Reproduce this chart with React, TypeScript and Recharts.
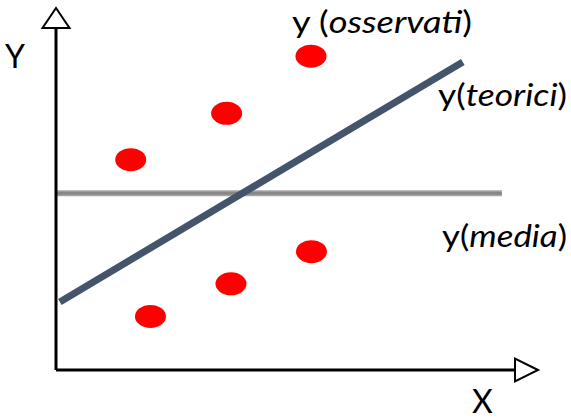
import React from 'react';
import { ScatterChart, Scatter, XAxis, YAxis, Customized } from 'recharts';

// observed points
const osservati = [
  { x: 1.55, y: 5.81 },
  { x: 3.54, y: 7.09 },
  { x: 5.29, y: 8.67 },
  { x: 1.96, y: 1.48 },
  { x: 3.63, y: 2.38 },
  { x: 5.3, y: 3.27 },
];
// regression line endpoints
const teorici = [
  { x: 0.08, y: 1.88 },
  { x: 8.44, y: 8.51 },
];
// mean line endpoints
const media = [
  { x: 0.02, y: 4.88 },
  { x: 9.25, y: 4.88 },
];
// axes
const xAxisLine = [
  { x: 0, y: 0 },
  { x: 9.6, y: 0 },
];
const yAxisLine = [
  { x: 0, y: 0 },
  { x: 0, y: 9.6 },
];
const xArrow = [{ x: 10, y: 0 }];
const yArrow = [{ x: 0, y: 10 }];

const W = 571;
const H = 419;
const FONT = 'Lato, "Open Sans", sans-serif';

const Ellipse = (p: any) => <ellipse cx={p.cx} cy={p.cy} rx={15.5} ry={11.5} fill="#ff0000" />;
const None = () => <g />;
const XArrowShape = (p: any) => (
  <polygon
    points={`${p.cx},${p.cy} ${p.cx - 23},${p.cy - 11.5} ${p.cx - 23},${p.cy + 11.5}`}
    fill="#ffffff"
    stroke="#000000"
    strokeWidth={2}
    strokeLinejoin="miter"
  />
);
const YArrowShape = (p: any) => (
  <polygon
    points={`${p.cx},${p.cy} ${p.cx - 13.5},${p.cy + 20} ${p.cx + 13.5},${p.cy + 20}`}
    fill="#ffffff"
    stroke="#000000"
    strokeWidth={2}
    strokeLinejoin="miter"
  />
);

const Labels = () => (
  <g fontFamily={FONT} fill="#000000">
    <text x={5} y={68} fontSize={32}>Y</text>
    <text x={472} y={413} fontSize={32}>X</text>
    <text x={292} y={33} fontSize={30} textLength={180} lengthAdjust="spacingAndGlyphs">
      y (<tspan fontStyle="italic">osservati</tspan>)
    </text>
    <text x={438} y={106} fontSize={30} textLength={129} lengthAdjust="spacingAndGlyphs">
      y(<tspan fontStyle="italic">teorici</tspan>)
    </text>
    <text x={442} y={247} fontSize={30} textLength={125} lengthAdjust="spacingAndGlyphs">
      y(<tspan fontStyle="italic">media</tspan>)
    </text>
  </g>
);

export default function App() {
  return (
    <div style={{ position: 'absolute', left: 0, top: 0, width: W, height: H, background: '#fff' }}>
      <ScatterChart width={W} height={H} margin={{ top: 8, right: 33, bottom: 49, left: 56 }}>
        <XAxis type="number" dataKey="x" domain={[0, 10]} hide />
        <YAxis type="number" dataKey="y" domain={[0, 10]} hide />
        <Scatter data={media} line={{ stroke: '#a6a6a6', strokeWidth: 6 }} shape={None} isAnimationActive={false} />
        <Scatter data={media} line={{ stroke: '#878787', strokeWidth: 3 }} shape={None} isAnimationActive={false} />
        <Scatter data={teorici} line={{ stroke: '#44546a', strokeWidth: 7 }} shape={None} isAnimationActive={false} />
        <Scatter data={osservati} shape={Ellipse} isAnimationActive={false} />
        <Scatter data={xAxisLine} line={{ stroke: '#000', strokeWidth: 3 }} shape={None} isAnimationActive={false} />
        <Scatter data={yAxisLine} line={{ stroke: '#000', strokeWidth: 3 }} shape={None} isAnimationActive={false} />
        <Scatter data={xArrow} shape={XArrowShape} isAnimationActive={false} />
        <Scatter data={yArrow} shape={YArrowShape} isAnimationActive={false} />
        <Customized component={Labels} />
      </ScatterChart>
    </div>
  );
}
